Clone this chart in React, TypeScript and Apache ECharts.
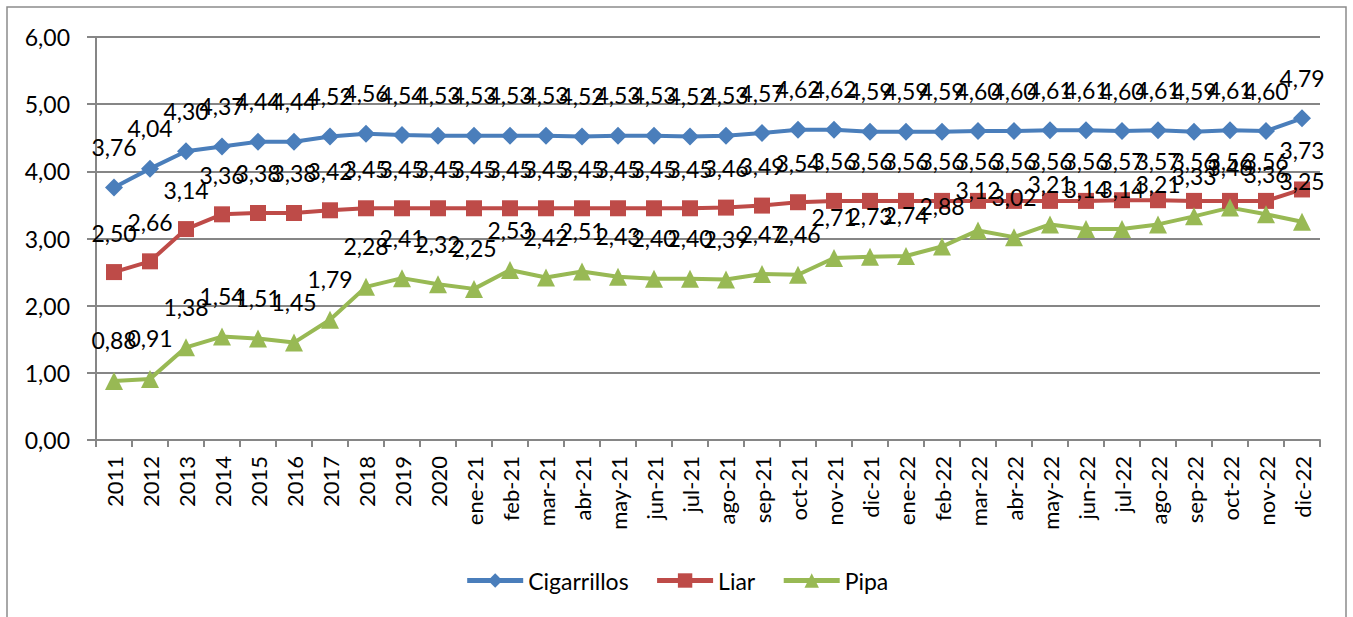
import React, { useEffect, useRef } from "react";
import * as echarts from "echarts";

const categories = [
  "2011", "2012", "2013", "2014", "2015", "2016", "2017", "2018", "2019", "2020",
  "ene-21", "feb-21", "mar-21", "abr-21", "may-21", "jun-21", "jul-21", "ago-21", "sep-21", "oct-21", "nov-21", "dic-21",
  "ene-22", "feb-22", "mar-22", "abr-22", "may-22", "jun-22", "jul-22", "ago-22", "sep-22", "oct-22", "nov-22", "dic-22",
];

const cigarrillos = [
  3.76, 4.04, 4.30, 4.37, 4.44, 4.44, 4.52, 4.56, 4.54, 4.53,
  4.53, 4.53, 4.53, 4.52, 4.53, 4.53, 4.52, 4.53, 4.57, 4.62, 4.62, 4.59,
  4.59, 4.59, 4.60, 4.60, 4.61, 4.61, 4.60, 4.61, 4.59, 4.61, 4.60, 4.79,
];

const liar = [
  2.50, 2.66, 3.14, 3.36, 3.38, 3.38, 3.42, 3.45, 3.45, 3.45,
  3.45, 3.45, 3.45, 3.45, 3.45, 3.45, 3.45, 3.46, 3.49, 3.54, 3.56, 3.56,
  3.56, 3.56, 3.56, 3.56, 3.56, 3.56, 3.57, 3.57, 3.56, 3.56, 3.56, 3.73,
];

const pipa = [
  0.88, 0.91, 1.38, 1.54, 1.51, 1.45, 1.79, 2.28, 2.41, 2.32,
  2.25, 2.53, 2.42, 2.51, 2.43, 2.40, 2.40, 2.39, 2.47, 2.46, 2.71, 2.73,
  2.74, 2.88, 3.12, 3.02, 3.21, 3.14, 3.14, 3.21, 3.33, 3.46, 3.36, 3.25,
];

const yTicks = { min: 0, max: 6, interval: 1 };

const FONT = "Lato";

const fmt = (v: number) => v.toFixed(2).replace(".", ",");

export default function App() {
  const ref = useRef<HTMLDivElement>(null);
  useEffect(() => {
    if (!ref.current) return;
    const chart = echarts.init(ref.current, undefined, { renderer: "svg" });
    const label = {
      show: true,
      position: "top" as const,
      distance: 20,
      color: "#000",
      fontSize: 23,
      fontFamily: FONT,
      formatter: (p: any) => fmt(p.value),
    };
    const mk = (name: string, data: number[], color: string, symbol: string, size: number) => ({
      name,
      type: "line",
      data,
      symbol,
      symbolSize: size,
      itemStyle: { color },
      lineStyle: { color, width: 4 },
      label,
      labelLayout: { hideOverlap: false },
      emphasis: { disabled: true },
    });
    chart.setOption({
      animation: false,
      textStyle: { fontFamily: FONT },
      graphic: [
        {
          type: "rect",
          shape: { x: 7, y: 7, width: 1339, height: 620 },
          style: { fill: "none", stroke: "#8c8c8c", lineWidth: 1.5 },
          silent: true,
        },
      ],
      grid: { left: 96, top: 37, width: 1224, height: 403, containLabel: false },
      legend: {
        top: 564,
        left: "center",
        itemWidth: 56,
        itemHeight: 18,
        itemGap: 26,
        lineStyle: { width: 5 },
        textStyle: { fontSize: 23, fontFamily: FONT, color: "#000" },
        data: ["Cigarrillos", "Liar", "Pipa"],
      },
      xAxis: {
        type: "category",
        data: categories,
        boundaryGap: true,
        axisLine: { lineStyle: { color: "#868686", width: 2 } },
        axisTick: { show: true, alignWithLabel: false, length: 7, lineStyle: { color: "#868686", width: 2 } },
        axisLabel: {
          rotate: 90,
          interval: 0,
          fontSize: 22,
          fontFamily: FONT,
          color: "#000",
          margin: 16,
        },
      },
      yAxis: {
        type: "value",
        min: yTicks.min,
        max: yTicks.max,
        interval: yTicks.interval,
        axisLine: { show: true, lineStyle: { color: "#868686", width: 2 } },
        axisTick: { show: true, length: 9, lineStyle: { color: "#868686", width: 2 } },
        splitLine: { show: true, lineStyle: { color: "#868686", width: 2 } },
        axisLabel: {
          fontSize: 23,
          fontFamily: FONT,
          color: "#000",
          margin: 26,
          formatter: (v: number) => fmt(v),
        },
      },
      series: [
        mk("Cigarrillos", cigarrillos, "#4A7EBB", "diamond", 18),
        mk("Liar", liar, "#BE4B48", "rect", 16),
        mk("Pipa", pipa, "#98B954", "triangle", 18),
      ],
    });
    return () => chart.dispose();
  }, []);
  return (
    <div
      ref={ref}
      style={{ position: "absolute", left: 0, top: 0, width: 1353, height: 617, background: "#fff" }}
    />
  );
}
